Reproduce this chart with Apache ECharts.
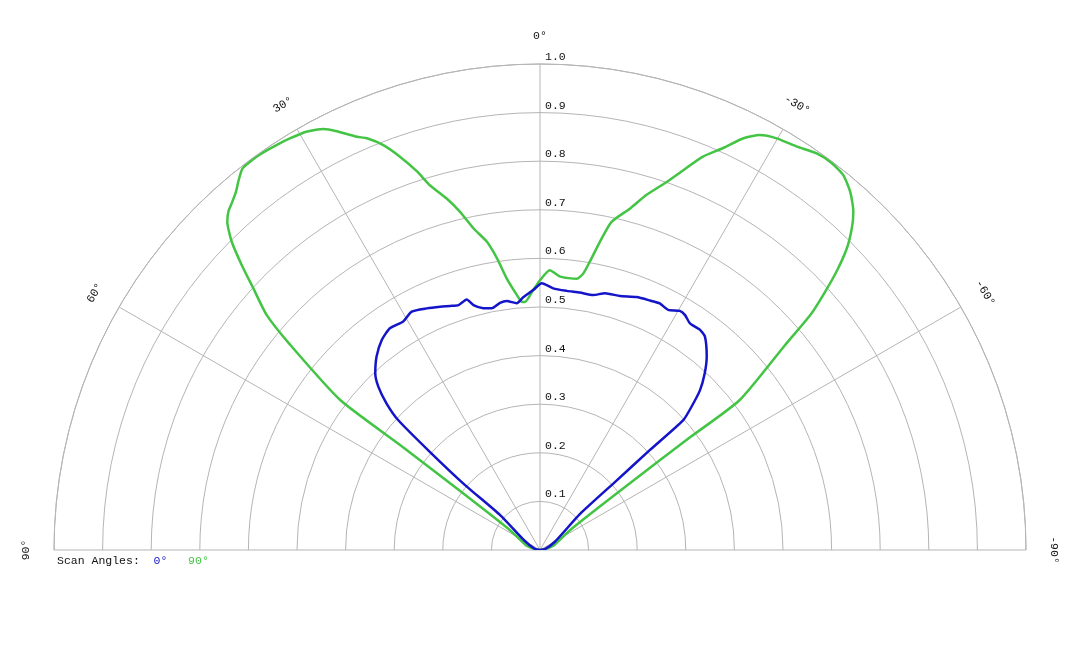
<!DOCTYPE html>
<html><head><meta charset="utf-8">
<script src="https://cdn.jsdelivr.net/npm/echarts@6/dist/echarts.min.js"></script>
<style>html,body{margin:0;padding:0;background:#fff}#c{width:1080px;height:648px}</style>
</head><body><div id="c"></div>
<script>
// ---- data: [radius, angle(deg)] ----
const seriesNames = ['0°', '90°'];
const seriesColors = ['#1414c8', '#44c444'];
const scan0 = [[0,90],[0.01,80],[0.037,59],[0.109,48.8],[0.204,49.1],[0.303,48.3],[0.396,47.5],[0.437,46.3],[0.473,44.7],[0.497,43.0],[0.521,40.2],[0.541,37.0],[0.551,34.1],[0.548,30.9],[0.557,28.3],[0.549,25.1],[0.541,22.3],[0.535,20.2],[0.531,18.4],[0.537,16.3],[0.522,15.2],[0.511,13.2],[0.507,11.3],[0.515,9.2],[0.517,7.6],[0.51,5.4],[0.521,3.8],[0.535,1.5],[0.549,-0.4],[0.539,-2.9],[0.536,-5.9],[0.536,-8.8],[0.536,-11.8],[0.545,-14.2],[0.548,-17.5],[0.557,-20.9],[0.561,-23.8],[0.564,-25.9],[0.56,-28.1],[0.57,-30.3],[0.568,-31.7],[0.559,-33.5],[0.56,-36.0],[0.555,-37.7],[0.525,-40.8],[0.497,-43.0],[0.466,-45.0],[0.429,-46.6],[0.398,-47.8],[0.306,-47.7],[0.208,-47.8],[0.111,-48.0],[0.035,-61],[0.01,-80],[0,-90]];
const scan90 = [[0,90],[0.01,82],[0.03,72],[0.04,65],[0.08,56],[0.206,53.5],[0.36,53.1],[0.514,53.1],[0.665,50.6],[0.742,49.3],[0.799,47.6],[0.849,46.3],[0.897,45.0],[0.933,43.6],[0.947,42.6],[0.955,41.6],[0.967,40.3],[0.98,39.3],[0.995,38.0],[0.997,36.9],[0.997,35.2],[0.994,33.0],[0.991,31.3],[0.986,29.2],[0.974,27.2],[0.958,25.9],[0.93,23.9],[0.919,22.8],[0.894,21.2],[0.859,19.6],[0.819,18.0],[0.784,16.8],[0.749,14.9],[0.715,13.3],[0.676,11.7],[0.644,9.8],[0.607,8.4],[0.563,7.0],[0.527,5.2],[0.512,4.2],[0.511,3.5],[0.535,1.5],[0.555,0],[0.576,-2.0],[0.564,-4.2],[0.563,-7.7],[0.576,-8.9],[0.602,-9.8],[0.646,-11.0],[0.691,-12.3],[0.727,-14.8],[0.763,-16.7],[0.801,-19.0],[0.836,-20.7],[0.876,-22.5],[0.909,-24.5],[0.945,-26.3],[0.966,-27.9],[0.977,-29.9],[0.984,-32.5],[0.995,-34.9],[0.997,-37.0],[0.992,-39.0],[0.975,-40.9],[0.949,-42.8],[0.922,-44.1],[0.885,-45.5],[0.837,-46.8],[0.784,-48.0],[0.737,-49.0],[0.657,-50.1],[0.514,-53.1],[0.386,-53.1],[0.206,-53.5],[0.08,-56],[0.04,-65],[0.03,-72],[0.01,-82],[0,-90]];
const radialTicks = [0.1,0.2,0.3,0.4,0.5,0.6,0.7,0.8,0.9,1.0];
const angleTicks = [0,30,60,90,-30,-60,-90];
const legendTitle = 'Scan Angles:';

const FONT = '"Liberation Mono", "DejaVu Sans Mono", monospace';
const GRID = '#b5b5b5';
const chart = echarts.init(document.getElementById('c'));
chart.setOption({
  backgroundColor: '#fff',
  animation: false,
  polar: { center: [540, 550], radius: 486 },
  angleAxis: {
    type: 'value', min: -90, max: 90, interval: 30,
    startAngle: 0, endAngle: 180, clockwise: false,
    axisLine: { show: true, lineStyle: { color: GRID, width: 1 } },
    axisTick: { show: false }, axisLabel: { show: false },
    splitLine: { show: true, lineStyle: { color: GRID, width: 1 } }
  },
  radiusAxis: {
    type: 'value', min: 0, max: 1, interval: 0.1,
    axisLine: { show: false }, axisTick: { show: false }, axisLabel: { show: false },
    splitLine: { show: true, lineStyle: { color: GRID, width: 1 } }
  },
  series: [
    { name: seriesNames[0], type: 'line', coordinateSystem: 'polar', data: scan0, symbol: 'none', smooth: 0.2,
      lineStyle: { color: seriesColors[0], width: 2.5 }, z: 3 },
    { name: seriesNames[1], type: 'line', coordinateSystem: 'polar', data: scan90, symbol: 'none', smooth: 0.2,
      lineStyle: { color: seriesColors[1], width: 2.5 }, z: 2 }
  ]
});

const g = [];
radialTicks.forEach(v => {
  const p = chart.convertToPixel({ polarIndex: 0 }, [v, 0]);
  g.push({ type: 'text', x: p[0] + 5, y: p[1] - 7, silent: true,
    style: { text: v.toFixed(1), font: '11.5px ' + FONT, fill: '#111', align: 'left', verticalAlign: 'middle' } });
});
angleTicks.forEach(a => {
  const p = chart.convertToPixel({ polarIndex: 0 }, [514 / 486, a]);
  g.push({ type: 'text', x: p[0], y: p[1], rotation: a * Math.PI / 180, silent: true,
    style: { text: a + '°', font: '11.5px ' + FONT, fill: '#111', align: 'center', verticalAlign: 'middle' } });
});
g.push({ type: 'text', left: 57, top: 555, silent: true,
  style: { text: '{k|' + legendTitle + '}  {a|' + seriesNames[0] + '}   {b|' + seriesNames[1] + '}',
    font: '11.5px ' + FONT, fill: '#111',
    rich: { k: { fill: '#111', font: '11.5px ' + FONT }, a: { fill: seriesColors[0], font: '11.5px ' + FONT }, b: { fill: seriesColors[1], font: '11.5px ' + FONT } } } });
chart.setOption({ graphic: g });
</script></body></html>
